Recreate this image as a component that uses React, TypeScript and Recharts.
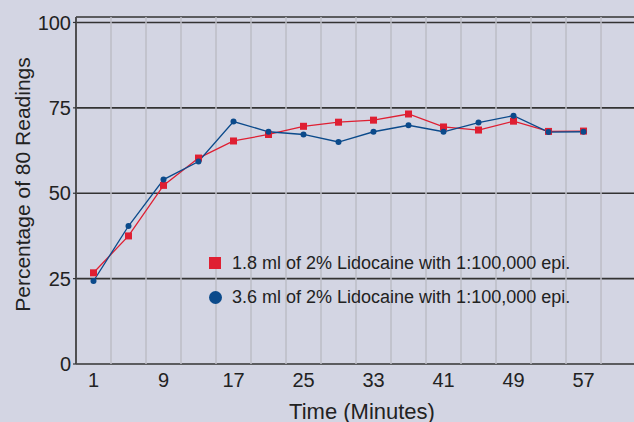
import { LineChart, Line, XAxis, YAxis, CartesianGrid, ReferenceLine } from "recharts";

const minutes = [1, 5, 9, 13, 17, 21, 25, 29, 33, 37, 41, 45, 49, 53, 57];
const dose18 = [26.7, 37.5, 52.3, 60.3, 65.3, 67.2, 69.6, 70.8, 71.4, 73.2, 69.4, 68.5, 71.1, 68.1, 68.2];
const dose36 = [24.3, 40.4, 54.0, 59.3, 71.0, 68.0, 67.2, 65.0, 68.0, 69.9, 68.0, 70.7, 72.7, 67.9, 68.0];

const xLabelTicks = [1, 9, 17, 25, 33, 41, 49, 57];
const xGridTicks = [-1, 3, 7, 11, 15, 19, 23, 27, 31, 35, 39, 43, 47, 51, 55, 59];
const yTicks = [0, 25, 50, 75, 100];

const series18 = "1.8 ml of 2% Lidocaine with 1:100,000 epi.";
const series36 = "3.6 ml of 2% Lidocaine with 1:100,000 epi.";
const yTitle = "Percentage of 80 Readings";
const xTitle = "Time (Minutes)";

const data = minutes.map((m, i) => ({ minute: m, a: dose18[i], b: dose36[i] }));

const RED = "#df1f32";
const BLUE = "#0b4a8b";
const FONT = "'Liberation Sans Narrow', 'Liberation Sans', Arial, sans-serif";
const xDomain = [-1, 62.77];

const SquareDot = (props: any) => {
  const { cx, cy } = props;
  if (cx == null || cy == null) return null;
  return <rect x={cx - 3.5} y={cy - 3.5} width={7} height={7} fill={RED} />;
};

// rotated y title, centred in the axis band
const YTitle = (props: any) => {
  const { viewBox } = props;
  const cx = viewBox.x + 22;
  const cy = viewBox.y + viewBox.height / 2 - 6;
  return (
    <text
      x={cx}
      y={cy}
      transform={`rotate(-90 ${cx} ${cy})`}
      textAnchor="middle"
      dominantBaseline="central"
      fill="#222"
      fontSize={21}
      fontFamily={FONT}
    >
      {yTitle}
    </text>
  );
};

const LegendBox = () => (
  <div
    style={{
      position: "absolute",
      left: 209,
      top: 246,
      fontFamily: FONT,
      fontSize: 18,
      color: "#222",
      lineHeight: "34px",
      whiteSpace: "nowrap",
    }}
  >
    <div style={{ display: "flex", alignItems: "center" }}>
      <span style={{ width: 12, height: 12, background: RED, display: "inline-block", marginRight: 11 }} />
      {series18}
    </div>
    <div style={{ display: "flex", alignItems: "center" }}>
      <span style={{ width: 13, height: 13, borderRadius: "50%", background: BLUE, display: "inline-block", marginRight: 10 }} />
      {series36}
    </div>
  </div>
);

export default function App() {
  return (
    <div style={{ position: "fixed", left: 0, top: 0, width: 634, height: 422, background: "#d3d5e3" }}>
      <LineChart width={634} height={422} data={data} margin={{ top: 17, right: 0, bottom: 0, left: 0 }}>
        {xGridTicks.map((t) => (
          <ReferenceLine key={t} xAxisId="grid" x={t} stroke="#bcbdc6" strokeWidth={1.5} />
        ))}
        <CartesianGrid vertical={false} stroke="#333" strokeWidth={1.6} />
        <XAxis
          xAxisId="grid"
          dataKey="minute"
          type="number"
          domain={xDomain}
          ticks={xGridTicks}
          tick={false}
          tickSize={4}
          height={0}
          axisLine={{ stroke: "#333", strokeWidth: 1.6 }}
          tickLine={{ stroke: "#333", strokeWidth: 1.2 }}
          allowDataOverflow
        />
        <XAxis
          dataKey="minute"
          type="number"
          domain={xDomain}
          ticks={xLabelTicks}
          axisLine={false}
          tickLine={false}
          tickSize={4}
          tickMargin={5}
          height={58}
          tick={{ fill: "#222", fontSize: 20, fontFamily: FONT }}
          label={{ value: xTitle, position: "insideBottom", offset: 3, dx: 7, fill: "#222", fontSize: 22, fontFamily: FONT }}
          allowDataOverflow
        />
        <YAxis
          type="number"
          domain={[0, 101.6]}
          ticks={yTicks}
          width={76}
          tickSize={3}
          tickMargin={2}
          axisLine={{ stroke: "#333", strokeWidth: 1.6 }}
          tickLine={{ stroke: "#333", strokeWidth: 1.2 }}
          tick={{ fill: "#222", fontSize: 20, fontFamily: FONT }}
          label={<YTitle />}
          allowDataOverflow
        />
        <Line
          dataKey="a"
          name={series18}
          stroke={RED}
          strokeWidth={1.3}
          dot={<SquareDot />}
          isAnimationActive={false}
        />
        <Line
          dataKey="b"
          name={series36}
          stroke={BLUE}
          strokeWidth={1.3}
          dot={{ r: 3, fill: BLUE, stroke: BLUE, strokeWidth: 0 }}
          isAnimationActive={false}
        />
      </LineChart>
      <LegendBox />
    </div>
  );
}
